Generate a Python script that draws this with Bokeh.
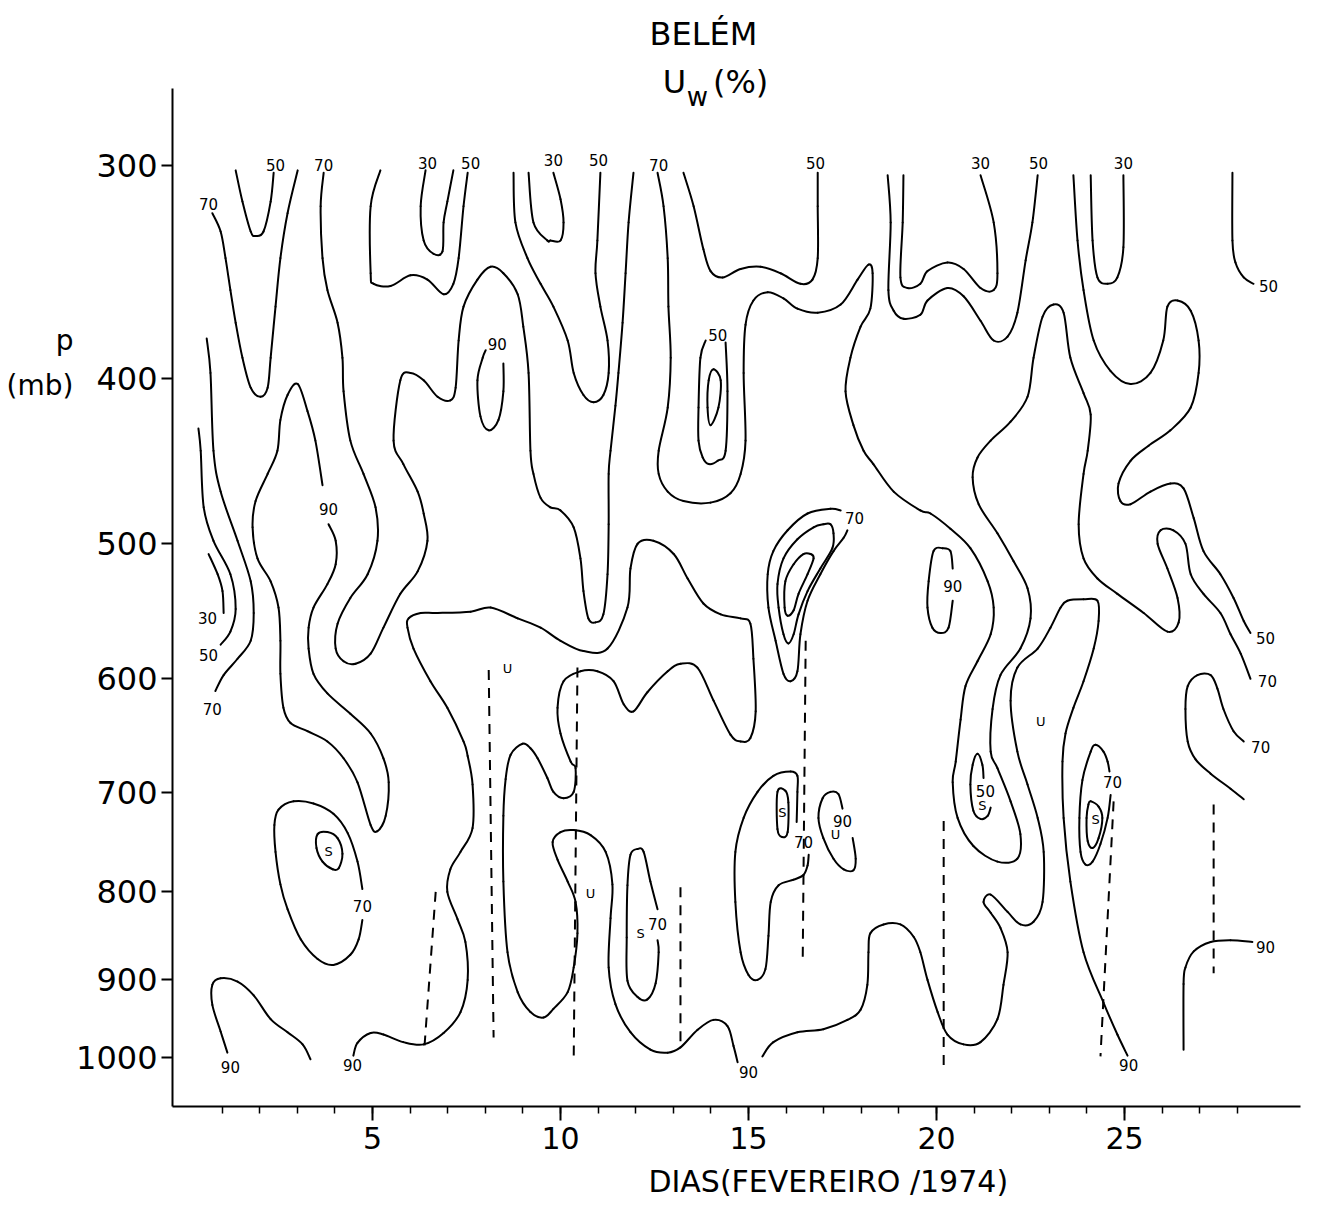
import math
from bokeh.plotting import figure
from bokeh.models import Range1d, FixedTicker, PrintfTickFormatter, ColumnDataSource, LinearAxis, LogAxis
from bokeh.core.properties import value
from bokeh.embed import file_html
from bokeh.resources import INLINE

FONT = "DejaVu Sans"

# ---------------- axes ----------------
day_major_ticks = [5, 10, 15, 20, 25]
day_minor_ticks = list(range(1, 29))
p_ticks = [300, 400, 500, 600, 700, 800, 900, 1000]

# ---------------- contour lines (day, pressure hPa) ----------------
c70_a_d = [0.74, 0.96, 1.09, 1.22, 1.36, 1.54, 1.76, 2.02, 2.21, 2.29, 2.42, 2.55, 2.74, 3.01]
c70_a_p = [320, 328, 340, 355, 371, 389, 405, 410, 405, 389, 363, 340, 320, 302]

c50_a_d = [1.36, 1.54, 1.76, 1.89, 2.10, 2.29, 2.37]
c50_a_p = [302, 315, 328, 330, 328, 315, 303]

c70_b_d = [3.70, 3.62, 3.67, 3.80, 4.07, 4.20, 4.23, 4.41, 4.76, 5.08, 5.13, 4.87, 4.41, 4.07, 4.02,
           4.23, 4.55, 4.95, 5.29, 5.74, 6.20, 6.46, 6.36, 6.20, 5.82, 5.56, 5.74, 6.01, 6.36, 6.73,
           7.07, 7.21, 7.29, 7.42, 7.79, 8.14, 8.48, 8.86, 9.01, 9.15, 9.20, 9.28, 9.47, 9.73, 10.0,
           10.35, 10.53, 10.61, 10.74, 10.93, 11.14, 11.25, 11.28, 11.28, 11.33, 11.46, 11.54, 11.65,
           11.73, 11.81, 11.94]
c70_b_p = [303, 317, 340, 355, 371, 389, 407, 435, 455, 476, 498, 521, 538, 557, 576,
           586, 588, 580, 560, 535, 519, 498, 480, 466, 449, 435, 401, 397, 401, 410,
           412, 405, 380, 363, 350, 344, 347, 357, 373, 397, 441, 455, 470, 476, 478,
           489, 510, 533, 553, 556, 550, 521, 487, 455, 441, 415, 397, 371,
           347, 324, 303]

c50_b_d = [5.21, 4.95, 4.95, 5.03, 5.48, 6.01, 6.46, 6.89, 7.15, 7.29, 7.42, 7.53]
c50_b_p = [302, 317, 347, 352, 353, 348, 350, 357, 352, 340, 317, 303]

c30_a_d = [6.41, 6.28, 6.36, 6.62, 6.86, 6.89, 6.99, 7.15]
c30_a_p = [302, 317, 332, 338, 337, 324, 315, 302]

c50_c_d = [8.75, 8.80, 9.12, 9.47, 9.81, 10.19, 10.35, 10.61, 10.88, 11.14, 11.28, 11.25, 11.06, 10.93, 10.98, 11.06]
c50_c_p = [303, 324, 340, 352, 363, 380, 397, 409, 413, 409, 397, 380, 363, 347, 332, 303]

c30_b_d = [9.15, 9.28, 9.65, 9.73, 10.0, 10.08, 10.0, 9.81]
c30_b_p = [303, 324, 332, 332, 332, 324, 314, 303]

c70_c_d = [12.58, 12.74, 12.85, 12.87, 12.93, 12.85, 12.61, 12.61, 12.85, 13.27,
           13.99, 14.52, 14.79, 14.92, 14.87, 14.92, 15.13, 15.51, 15.93, 16.30,
           16.84, 17.45, 17.90, 18.19, 18.30, 18.24, 17.98, 17.71, 17.58, 17.79,
           18.06, 18.32, 18.86, 19.57, 19.84, 20.37, 20.90, 21.36, 21.52, 21.44,
           21.09, 20.77, 20.64, 20.51, 20.43, 20.56, 20.98, 21.62, 22.15, 22.23,
           21.97, 21.62, 21.44, 21.49, 21.70, 22.23, 22.50, 22.42, 22.05, 21.62,
           21.12, 20.96, 21.09, 21.44, 21.97, 22.42, 22.58, 22.82, 23.11, 23.38,
           23.56, 23.91, 24.10, 24.02, 23.91, 23.78, 23.91, 24.28, 24.81, 25.51,
           26.14, 26.44, 26.41, 26.14, 25.88, 25.96, 26.30, 26.62, 26.76, 27.10,
           27.55, 27.82, 28.09, 28.35]
c70_c_p = [303, 317, 340, 363, 389, 416, 441, 455, 466, 472,
           473, 467, 455, 435, 397, 372, 360, 356, 359, 364,
           366, 362, 350, 343, 347, 364, 373, 389, 407, 426,
           441, 449, 466, 478, 480, 490, 503, 526, 545, 565,
           586, 606, 634, 671, 690, 724, 752, 768, 765, 740,
           708, 677, 662, 625, 597, 576, 553, 531, 512, 493,
           474, 457, 445, 435, 424, 410, 389, 368, 362, 366,
           389, 408, 420, 441, 455, 487, 510, 524, 535, 549,
           563, 556, 538, 517, 500, 491, 491, 500, 521, 535,
           549, 565, 580, 600]

c50_d_d = [13.27, 13.54, 13.80, 13.99, 14.31, 14.79, 15.32, 15.85, 16.38, 16.70, 16.84, 16.84, 16.84]
c50_d_p = [303, 317, 336, 346, 349, 345, 344, 347, 352, 350, 340, 317, 303]

c50_e_d = [14.39, 14.44, 14.39, 14.18, 13.94, 13.78, 13.67, 13.67, 13.72, 13.86]
c50_e_p = [381, 407, 441, 447, 449, 445, 435, 416, 389, 380]

c30_c_d = [14.07, 14.26, 14.20, 13.99, 13.91, 13.94, 14.07]
c30_c_p = [395, 401, 416, 426, 416, 401, 395]

c50_f_d = [18.70, 18.78, 18.72, 18.86, 19.12, 19.57, 19.76, 20.29, 20.72, 21.17, 21.52, 21.89, 22.15, 22.37, 22.55, 22.69]
c50_f_p = [304, 324, 355, 365, 369, 367, 360, 354, 358, 370, 380, 378, 366, 341, 324, 304]

c30_d_d = [19.12, 19.10, 19.04, 19.23, 19.57, 19.76, 20.29, 20.72, 21.17, 21.52, 21.62, 21.52, 21.17]
c30_d_p = [304, 324, 349, 354, 352, 346, 342, 345, 354, 355, 347, 324, 304]

c50_g_d = [23.64, 23.75, 23.91, 24.18, 24.63, 25.16, 25.69, 26.03, 26.14, 26.41,
           26.76, 26.97, 26.97, 26.76, 26.22, 25.64, 25.16, 24.84, 24.89, 25.16,
           25.69, 26.22, 26.57, 26.84, 27.10, 27.55, 27.90, 28.17, 28.35]
c50_g_p = [304, 332, 355, 380, 396, 403, 397, 380, 363, 360,
           365, 380, 397, 416, 429, 438, 447, 461, 472, 474,
           466, 461, 464, 483, 505, 521, 538, 555, 564]

c30_e_d = [24.10, 24.15, 24.28, 24.55, 24.81, 24.97, 24.97]
c30_e_p = [304, 332, 349, 352, 349, 335, 304]

c50_h_d = [27.87, 27.87, 27.95, 28.17, 28.43]
c50_h_p = [303, 332, 342, 349, 352]

c90_a_d = [8.48, 8.48, 8.35, 8.09, 7.87, 7.79, 7.93, 8.01]
c90_a_p = [392, 407, 423, 429, 421, 401, 389, 385]

c90_b_d = [3.83, 4.02, 4.02, 3.80, 3.43, 3.30, 3.30, 3.43, 3.80, 4.41,
           4.95, 5.29, 5.43, 5.35, 5.13, 4.95, 4.60, 4.23, 3.80, 3.27,
           2.82, 2.63, 2.55, 2.55, 2.50, 2.29, 1.94, 1.81, 1.89, 2.21,
           2.47, 2.55, 2.74, 3.01, 3.27, 3.48, 3.67]
c90_b_p = [487, 498, 514, 528, 545, 560, 576, 596, 612, 629,
           646, 668, 690, 722, 737, 731, 690, 668, 653, 644,
           637, 624, 596, 570, 545, 526, 510, 489, 472, 455,
           441, 423, 409, 403, 418, 435, 462]

c70_d_d = [4.73, 4.60, 4.34, 3.96, 3.43, 2.90, 2.50, 2.39, 2.42, 2.55, 2.74, 3.09, 3.54, 3.96, 4.41, 4.63, 4.73]
c70_d_p = [797, 768, 739, 720, 710, 708, 716, 731, 758, 792, 819, 853, 876, 883, 871, 853, 831]

s1_d = [3.54, 3.80, 4.07, 4.20, 4.10, 3.94, 3.67, 3.51, 3.54]
s1_p = [740, 738, 744, 760, 775, 776, 768, 754, 740]

c90_c_d = [1.14, 0.96, 0.74, 0.74, 0.96, 1.41, 1.84, 2.29, 2.74, 3.14, 3.35]
c90_c_p = [994, 966, 932, 907, 899, 903, 920, 950, 967, 983, 1003]

c70_e_d = [0.59, 0.69, 0.77, 0.96, 1.41, 1.76, 1.84, 1.76, 1.41, 1.04, 0.82]
c70_e_p = [379, 397, 441, 466, 498, 526, 549, 570, 584, 597, 610]

c50_i_d = [0.37, 0.43, 0.51, 0.77, 1.22, 1.36, 1.22, 0.96]
c50_i_p = [428, 441, 476, 498, 521, 546, 563, 573]

c30_f_d = [0.64, 0.88, 1.01, 1.04]
c30_f_p = [507, 521, 533, 549]

c90_d1_d = [4.49, 4.60, 4.95, 5.29, 5.82, 6.36, 6.89, 7.34, 7.53, 7.47,
            7.26, 6.99, 7.07, 7.34, 7.66, 7.66, 7.53, 7.42, 6.99, 6.54,
            6.09, 5.93, 5.96, 6.28, 6.73, 7.61, 8.14, 8.86, 9.47, 10.0,
            10.61, 11.25, 11.78, 11.86, 12.05, 12.47, 13.01, 13.38, 13.80, 14.26,
            14.79, 15.05, 15.13, 15.19, 15.05, 14.79, 14.52, 14.07, 13.64, 13.19,
            12.85, 12.31, 11.94, 11.68, 11.41, 10.98, 10.53, 10.08, 9.92, 10.0,
            10.27, 10.40, 10.35, 10.08, 9.81, 9.65, 9.39, 9.20, 8.99, 8.67,
            8.54, 8.48, 8.48, 8.59, 8.86, 9.20, 9.55, 9.81, 10.19, 10.35,
            10.45, 10.40, 10.19, 9.92, 9.79, 10.0, 10.35, 10.80, 11.20, 11.38,
            11.33, 11.28, 11.46, 11.86, 12.39, 12.85, 13.19, 13.64, 14.07, 14.44, 14.60, 14.71]
c90_d1_p = [998, 981, 968, 970, 980, 983, 968, 941, 901, 856,
            830, 800, 776, 758, 734, 692, 666, 653, 624, 602,
            576, 560, 553, 549, 549, 548, 545, 553, 560, 570,
            578, 576, 545, 517, 500, 498, 507, 524, 542, 550,
            553, 557, 584, 627, 650, 653, 647, 618, 591, 588,
            594, 611, 627, 621, 602, 594, 594, 602, 624, 646,
            671, 677, 699, 705, 699, 686, 668, 659, 655, 665,
            687, 722, 789, 868, 916, 941, 948, 937, 916, 886,
            846, 811, 789, 766, 748, 738, 736, 741, 758, 792,
            829, 886, 931, 967, 990, 994, 987, 964, 951, 959, 985, 1007]

c90_d2_d = [15.37, 15.66, 16.30, 16.99, 17.63, 17.98, 18.16, 18.19, 18.24, 18.59,
            19.04, 19.39, 19.57, 19.76, 20.03, 20.29, 20.72, 21.17, 21.62, 21.78,
            21.89, 21.70, 21.44, 21.25, 21.44, 21.89, 22.23, 22.58, 22.82, 22.85,
            22.69, 22.42, 22.15, 21.97, 22.15, 22.69, 23.03, 23.30, 23.48, 23.91,
            24.28, 24.31, 24.18, 23.91, 23.64, 23.43, 23.35, 23.38, 23.56, 23.91,
            24.44, 24.81, 25.08]
c90_d2_p = [999, 980, 967, 963, 951, 938, 907, 868, 846, 836,
            836, 850, 868, 901, 941, 970, 983, 980, 950, 907,
            868, 840, 823, 811, 803, 822, 836, 833, 811, 758,
            724, 692, 662, 618, 591, 576, 560, 545, 540, 539,
            540, 555, 576, 602, 624, 646, 671, 724, 789, 868,
            929, 970, 998]

c70_f_d = [12.58, 12.39, 12.21, 12.05, 11.86, 11.78, 11.76, 11.78, 12.05, 12.31, 12.53, 12.61, 12.58]
c70_f_p = [819, 789, 758, 755, 761, 793, 851, 902, 922, 925, 905, 868, 854]

c70_g_d = [16.28, 16.30, 16.30, 16.12, 15.66, 15.24, 14.87, 14.65, 14.65, 14.79,
           15.0, 15.24, 15.45, 15.53, 15.59, 15.80, 16.20, 16.46, 16.57, 16.60]
c70_g_p = [728, 699, 684, 680, 684, 699, 724, 758, 811, 868,
           895, 901, 888, 849, 811, 793, 787, 782, 772, 761]

s3_d = [15.77, 15.98, 16.06, 16.04, 15.90, 15.77, 15.77]
s3_p = [699, 698, 709, 738, 743, 735, 699]

c90_e_d = [17.77, 17.85, 17.79, 17.53, 17.26, 16.99, 16.86, 16.97, 17.18, 17.39, 17.50]
c90_e_p = [744, 765, 777, 776, 765, 744, 724, 705, 699, 701, 715]

c90_f_d = [20.43, 20.37, 20.16, 19.92, 19.79, 19.76, 19.89, 20.11, 20.32, 20.43]
c90_f_p = [517, 505, 503, 505, 526, 545, 560, 564, 560, 540]

c50_j_d = [21.25, 21.22, 21.09, 20.96, 20.90, 20.98, 21.17, 21.36, 21.44]
c50_j_p = [686, 674, 664, 674, 692, 717, 725, 722, 714]

c70_h_d = [24.63, 24.55, 24.36, 24.15, 23.96, 23.83, 23.80, 23.88, 24.10, 24.23, 24.44, 24.55, 24.60]
c70_h_p = [702, 724, 750, 768, 771, 758, 724, 688, 662, 656, 662, 671, 680]

s5_d = [24.10, 24.31, 24.41, 24.31, 24.15, 24.02, 23.99, 24.04, 24.10]
s5_p = [708, 713, 724, 744, 754, 747, 724, 711, 708]

c70_i_d = [28.17, 27.90, 27.63, 27.47, 27.29, 26.94, 26.68, 26.62, 26.68, 26.89, 27.29, 27.82, 28.17]
c70_i_p = [653, 644, 625, 608, 597, 597, 606, 625, 653, 669, 682, 696, 706]

c90_g_d = [26.57, 26.57, 26.62, 26.84, 27.29, 27.82, 28.40]
c90_g_p = [990, 906, 886, 867, 856, 854, 856]

c70_j_d = [17.45, 17.18, 16.57, 16.04, 15.66, 15.51, 15.53, 15.72, 15.93, 16.12, 16.30, 16.38, 16.57, 16.91, 17.26, 17.53, 17.63]
c70_j_p = [478, 477, 480, 491, 505, 521, 545, 570, 596, 602, 594, 565, 540, 521, 505, 496, 491]

c50_k_d = [17.18, 17.26, 17.23, 16.91, 16.57, 16.33, 16.20, 16.06, 15.93, 15.80, 15.77, 15.93, 16.30, 16.73, 16.99, 17.18]
c50_k_p = [487, 493, 503, 517, 533, 550, 565, 572, 565, 545, 528, 510, 497, 489, 487, 487]

c30_g_d = [16.65, 16.73, 16.57, 16.33, 16.20, 16.04, 15.96, 15.98, 16.20, 16.46, 16.65]
c30_g_p = [507, 510, 521, 535, 547, 551, 545, 526, 514, 507, 507]

# dashed vertical markers
dash_d_top = [6.68, 8.09, 10.45, 13.19, 16.52, 20.19, 24.71, 27.37]
dash_p_top = [800, 593, 591, 795, 570, 727, 708, 711]
dash_d_bot = [6.38, 8.22, 10.35, 13.19, 16.44, 20.19, 24.36, 27.37]
dash_p_bot = [987, 974, 1004, 989, 882, 1013, 999, 893]

# S / U letters
s_d = [3.83, 12.13, 15.90, 21.22, 24.23]
s_p = [758, 846, 719, 712, 726]
u_d = [8.59, 10.80, 17.31, 22.77]
u_p = [592, 802, 740, 636]

# contour value labels
lab_text = ["70", "50", "70", "30", "50", "30", "50", "70", "50", "30", "50", "30",
            "50", "50", "90", "90", "30", "50", "70", "70", "90", "50", "70", "70",
            "70", "70", "70", "90", "50", "70", "90", "90", "90", "90", "90"]
lab_d = [0.64, 2.42, 3.70, 6.46, 7.61, 9.81, 11.01, 12.61, 16.78, 21.17, 22.71, 24.97,
         28.83, 14.18, 8.32, 3.83, 0.61, 0.64, 0.74, 17.82, 20.43, 28.75, 28.80, 28.62,
         4.73, 12.58, 16.46, 17.50, 21.30, 24.68, 28.75, 1.22, 4.47, 15.0, 25.11]
lab_p = [316, 300, 300, 299, 299, 298, 298, 300, 299, 299, 299, 299,
         353, 377, 382, 477, 553, 581, 625, 483, 529, 568, 602, 658,
         815, 836, 748, 727, 698, 690, 862, 1013, 1011, 1021, 1011]

# title / axis-title texts and their positions (day or pressure coordinates)
title_text = "BELÉM"
title_day = 13.80
sub_main_text = ["U", "(%)"]
sub_main_day = [13.03, 14.79]
sub_index_text = ["w"]
sub_index_day = [13.64]
ylabel_text = ["p", "(mb)"]
ylabel_p = [380, 404]
xlabel_text = ["DIAS(FEVEREIRO /1974)"]
xlabel_day = [17.12]

lines = [
    (c70_a_d, c70_a_p), (c50_a_d, c50_a_p), (c70_b_d, c70_b_p), (c50_b_d, c50_b_p),
    (c30_a_d, c30_a_p), (c50_c_d, c50_c_p), (c30_b_d, c30_b_p), (c70_c_d, c70_c_p),
    (c50_d_d, c50_d_p), (c50_e_d, c50_e_p), (c30_c_d, c30_c_p), (c50_f_d, c50_f_p),
    (c30_d_d, c30_d_p), (c50_g_d, c50_g_p), (c30_e_d, c30_e_p), (c50_h_d, c50_h_p),
    (c90_a_d, c90_a_p), (c90_b_d, c90_b_p), (c70_d_d, c70_d_p), (s1_d, s1_p),
    (c90_c_d, c90_c_p), (c70_e_d, c70_e_p), (c50_i_d, c50_i_p), (c30_f_d, c30_f_p),
    (c90_d1_d, c90_d1_p), (c90_d2_d, c90_d2_p), (c70_f_d, c70_f_p), (c70_g_d, c70_g_p),
    (s3_d, s3_p), (c90_e_d, c90_e_p), (c90_f_d, c90_f_p), (c50_j_d, c50_j_p),
    (c70_h_d, c70_h_p), (s5_d, s5_p), (c70_i_d, c70_i_p), (c90_g_d, c90_g_p),
    (c70_j_d, c70_j_p), (c50_k_d, c50_k_p), (c30_g_d, c30_g_p),
]


def smooth_segments(xs, ps):
    """Catmull-Rom -> cubic Bezier pieces through the read points (in day / log p space)."""
    pts = [(x, math.log(v)) for x, v in zip(xs, ps)]
    closed = len(pts) > 3 and xs[0] == xs[-1] and ps[0] == ps[-1]
    if closed:
        pts = pts[:-1]
        m = len(pts)
        get = lambda i: pts[i % m]
        idx = range(m)
    else:
        m = len(pts)
        get = lambda i: pts[min(max(i, 0), m - 1)]
        idx = range(m - 1)
    out = []
    for i in idx:
        a, b, c, d = get(i - 1), get(i), get(i + 1), get(i + 2)
        c0 = (b[0] + (c[0] - a[0]) / 6.0, b[1] + (c[1] - a[1]) / 6.0)
        c1 = (c[0] - (d[0] - b[0]) / 6.0, c[1] - (d[1] - b[1]) / 6.0)
        out.append((b, c0, c1, c))
    return out


bz = dict(x0=[], y0=[], x1=[], y1=[], cx0=[], cy0=[], cx1=[], cy1=[])
for xs, ps in lines:
    for b, c0, c1, c in smooth_segments(xs, ps):
        bz["x0"].append(b[0]); bz["y0"].append(math.exp(b[1]))
        bz["x1"].append(c[0]); bz["y1"].append(math.exp(c[1]))
        bz["cx0"].append(c0[0]); bz["cy0"].append(math.exp(c0[1]))
        bz["cx1"].append(c1[0]); bz["cy1"].append(math.exp(c1[1]))

p = figure(width=1311, height=1208, title=None,
           x_range=Range1d(-0.32, 29.68), y_range=Range1d(1069, 270.4),
           y_axis_type="log", output_backend="svg", toolbar_location=None,
           min_border_left=172, min_border_right=11, min_border_top=88, min_border_bottom=102)
p.outline_line_color = None
p.xgrid.visible = False
p.ygrid.visible = False
p.background_fill_color = "white"
p.border_fill_color = "white"

p.bezier(source=ColumnDataSource(bz), x0="x0", y0="y0", x1="x1", y1="y1",
         cx0="cx0", cy0="cy0", cx1="cx1", cy1="cy1",
         line_color="black", line_width=2, line_cap="round")

p.segment(x0=dash_d_top, y0=dash_p_top, x1=dash_d_bot, y1=dash_p_bot,
          line_color="black", line_width=2, line_dash="10 8")

lab_src = ColumnDataSource(dict(x=lab_d, y=lab_p, t=lab_text))
p.text(x="x", y="y", text="t", source=lab_src, text_align="center", text_baseline="middle",
       text_font=value(FONT), text_font_size="15px", text_color="black")
s_src = ColumnDataSource(dict(x=s_d, y=s_p, t=["S"] * len(s_d)))
p.text(x="x", y="y", text="t", source=s_src, text_align="center", text_baseline="middle",
       text_font=value(FONT), text_font_size="13px", text_color="black")
u_src = ColumnDataSource(dict(x=u_d, y=u_p, t=["U"] * len(u_d)))
p.text(x="x", y="y", text="t", source=u_src, text_align="center", text_baseline="middle",
       text_font=value(FONT), text_font_size="13px", text_color="black")

xa = p.xaxis[0]
xa.ticker = FixedTicker(ticks=day_major_ticks, minor_ticks=day_minor_ticks)
xa.major_tick_out = 14
xa.major_tick_in = 0
xa.minor_tick_out = 7
xa.minor_tick_in = 0
xa.axis_line_width = 2
xa.major_tick_line_width = 2
xa.minor_tick_line_width = 1.5
xa.major_label_standoff = 6
xa.major_label_text_font = FONT
xa.major_label_text_font_size = "30px"
xa.major_label_text_color = "black"

ya = p.yaxis[0]
ya.ticker = FixedTicker(ticks=p_ticks, minor_ticks=[])
ya.formatter = PrintfTickFormatter(format="%d")
ya.major_tick_out = 11
ya.major_tick_in = 0
ya.minor_tick_out = 0
ya.axis_line_width = 2
ya.major_tick_line_width = 2
ya.major_label_standoff = 4
ya.major_label_text_font = FONT
ya.major_label_text_font_size = "32px"
ya.major_label_text_color = "black"


def text_axis(cls, side, ticks, labels, size, standoff):
    ax = cls(ticker=FixedTicker(ticks=ticks, minor_ticks=[]),
             major_label_overrides={t: s for t, s in zip(ticks, labels)},
             axis_line_color=None, major_tick_line_color=None, minor_tick_line_color=None,
             major_tick_out=0, major_tick_in=0, minor_tick_out=0, minor_tick_in=0,
             major_label_standoff=standoff, major_label_text_font=FONT,
             major_label_text_font_size=size, major_label_text_color="black")
    p.add_layout(ax, side)
    return ax


# header rows above the frame (nearest first)
text_axis(LinearAxis, "above", sub_index_day, sub_index_text, "26px", -23)
text_axis(LinearAxis, "above", sub_main_day, sub_main_text, "32px", -22)
text_axis(LinearAxis, "above", [title_day], [title_text], "32px", 7)
# y-axis title "p (mb)"
text_axis(LogAxis, "left", ylabel_p, ylabel_text, "28px", 0)
# x-axis title
text_axis(LinearAxis, "below", xlabel_day, xlabel_text, "30px", 12)

open("out.html", "w").write(file_html(p, INLINE))
